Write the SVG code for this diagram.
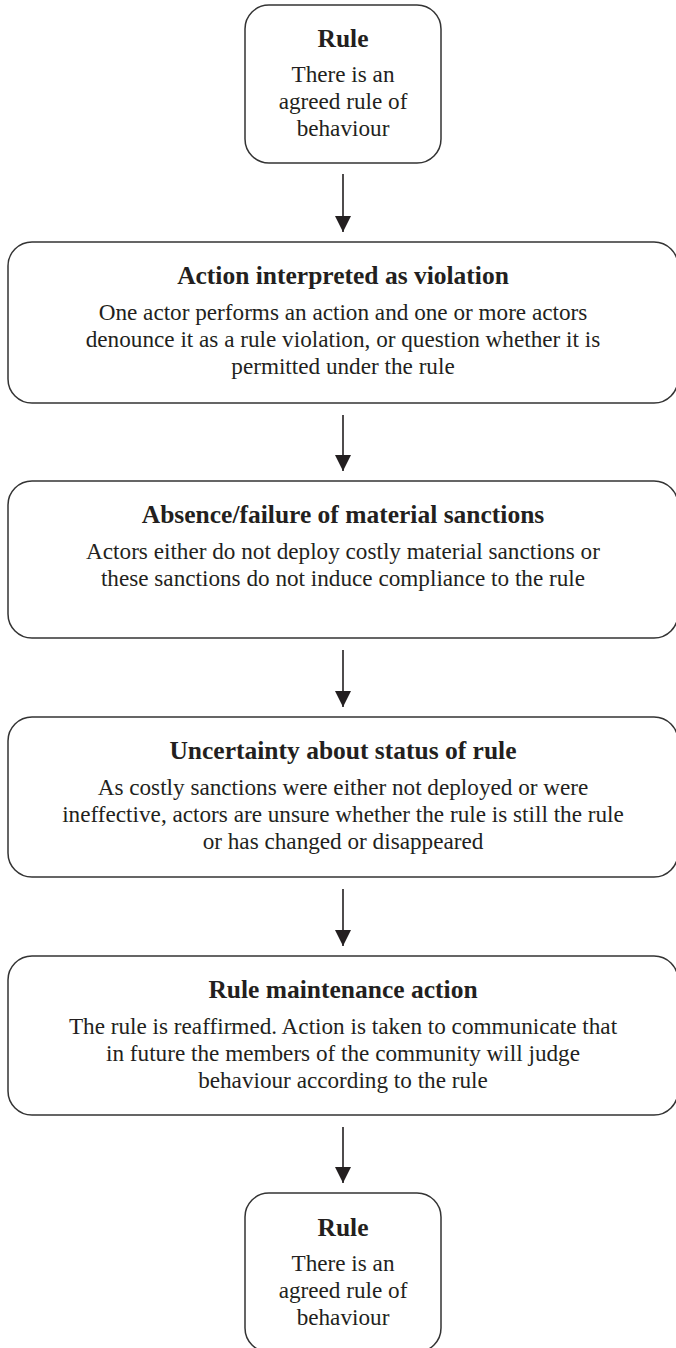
<svg xmlns="http://www.w3.org/2000/svg" width="676" height="1348" viewBox="0 0 676 1348">
<style>
.box{fill:#fff;stroke:#333;stroke-width:1.5}
.h{font-family:"Liberation Serif","Times New Roman",serif;font-weight:bold;font-size:25.5px;fill:#231f20;text-anchor:middle}
.t{font-family:"Liberation Serif","Times New Roman",serif;font-size:23.2px;fill:#231f20;text-anchor:middle}
.c{stroke:#231f20;stroke-width:1.6;fill:none}
</style>
<defs>
<marker id="ah" markerUnits="userSpaceOnUse" markerWidth="16" markerHeight="18" refX="16" refY="8" orient="auto">
<path d="M0,0 L16,8 L0,16 z" fill="#231f20"/>
</marker>
</defs>
<rect width="676" height="1348" fill="#fff"/>
<g id="connectors">
<line class="c" x1="343" y1="174" x2="343" y2="232" marker-end="url(#ah)"/>
<line class="c" x1="343" y1="415" x2="343" y2="471" marker-end="url(#ah)"/>
<line class="c" x1="343" y1="650" x2="343" y2="707" marker-end="url(#ah)"/>
<line class="c" x1="343" y1="889" x2="343" y2="946" marker-end="url(#ah)"/>
<line class="c" x1="343" y1="1127" x2="343" y2="1183" marker-end="url(#ah)"/>
</g>
<g id="rule1">
<rect class="box" x="245" y="5" width="196" height="158" rx="24"/>
<text class="h" x="343" y="47">Rule</text>
<text class="t" x="343" y="82">There is an</text>
<text class="t" x="343" y="109">agreed rule of</text>
<text class="t" x="343" y="136">behaviour</text>
</g>
<g id="violation">
<rect class="box" x="8" y="242" width="670" height="161" rx="24"/>
<text class="h" x="343" y="284">Action interpreted as violation</text>
<text class="t" x="343" y="320">One actor performs an action and one or more actors</text>
<text class="t" x="343" y="347">denounce it as a rule violation, or question whether it is</text>
<text class="t" x="343" y="374">permitted under the rule</text>
</g>
<g id="sanctions">
<rect class="box" x="8" y="481" width="670" height="157" rx="24"/>
<text class="h" x="343" y="523">Absence/failure of material sanctions</text>
<text class="t" x="343" y="559">Actors either do not deploy costly material sanctions or</text>
<text class="t" x="343" y="586">these sanctions do not induce compliance to the rule</text>
</g>
<g id="uncertainty">
<rect class="box" x="8" y="717" width="670" height="160" rx="24"/>
<text class="h" x="343" y="759">Uncertainty about status of rule</text>
<text class="t" x="343" y="795">As costly sanctions were either not deployed or were</text>
<text class="t" x="343" y="822">ineffective, actors are unsure whether the rule is still the rule</text>
<text class="t" x="343" y="849">or has changed or disappeared</text>
</g>
<g id="maintenance">
<rect class="box" x="8" y="956" width="670" height="159" rx="24"/>
<text class="h" x="343" y="998">Rule maintenance action</text>
<text class="t" x="343" y="1034">The rule is reaffirmed. Action is taken to communicate that</text>
<text class="t" x="343" y="1061">in future the members of the community will judge</text>
<text class="t" x="343" y="1088">behaviour according to the rule</text>
</g>
<g id="rule2">
<rect class="box" x="245" y="1193" width="196" height="159" rx="24"/>
<text class="h" x="343" y="1236">Rule</text>
<text class="t" x="343" y="1271">There is an</text>
<text class="t" x="343" y="1298">agreed rule of</text>
<text class="t" x="343" y="1325">behaviour</text>
</g>
</svg>
